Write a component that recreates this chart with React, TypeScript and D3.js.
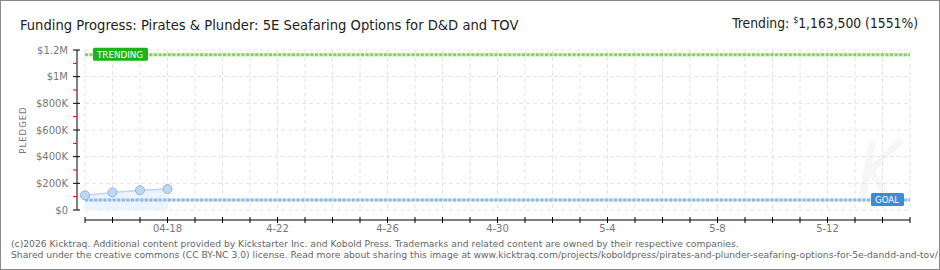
import React from 'react';
import * as d3 from 'd3';

const width = 940
  , height = 270

const titleText = 'Funding Progress: Pirates & Plunder: 5E Seafaring Options for D&D and TOV'
const footerLines = [
  '(c)2026 Kicktraq. Additional content provided by Kickstarter Inc. and Kobold Press. Trademarks and related content are owned by their respective companies.',
  'Shared under the creative commons (CC BY-NC 3.0) license. Read more about sharing this image at www.kicktraq.com/projects/koboldpress/pirates-and-plunder-seafaring-options-for-5e-dandd-and-tov/'
]

// campaign window
const startDate = '2026-04-15'
const endDate = '2026-05-15'

// pledged so far
const pledgeDates = ['2026-04-15', '2026-04-16', '2026-04-17', '2026-04-18']
const pledged = [110000, 132000, 148000, 157000]

const goal = 75000
const trending = 1163500
const trendingPct = '1551%'

const yTicks = [0, 200000, 400000, 600000, 800000, 1000000, 1200000]
const yTickLabels = ['$0', '$200K', '$400K', '$600K', '$800K', '$1M', '$1.2M']

const xLabelDates = ['2026-04-18', '2026-04-22', '2026-04-26', '2026-04-30', '2026-05-04', '2026-05-08', '2026-05-12']
const xLabels = ['04-18', '4-22', '4-26', '4-30', '5-4', '5-8', '5-12']

const parse = d3.timeParse('%Y-%m-%d')

export default class App extends React.Component {
  ref: React.RefObject<HTMLDivElement | null>

  constructor(props: any) {
    super(props);
    this.ref = React.createRef();
  }

  componentDidMount() {
    document.body.style.margin = '0';
    this.draw();
  }

  draw() {
    const root = d3.select(this.ref.current);
    root.selectAll('*').remove();

    const svg = root.append('svg')
      .attr('width', width)
      .attr('height', height)
      .style('display', 'block')
      .style('background', '#fff');

    const x = d3.scaleTime()
      .domain([parse(startDate) as Date, parse(endDate) as Date])
      .range([85, 910]);
    const y = d3.scaleLinear().domain([0, 1200000]).range([210, 50]);

    const font = "'DejaVu Sans', sans-serif";
    const narrow = "'DejaVu Sans Condensed', 'DejaVu Sans', sans-serif";

    // outer frame
    svg.append('rect')
      .attr('x', 0.5).attr('y', 0.5)
      .attr('width', width - 1).attr('height', height - 1)
      .attr('fill', 'none').attr('stroke', '#888');

    // faint "K" logo watermark (decoration only)
    svg.append('path')
      .attr('d', 'M862,200 L872,145 M868,175 C880,160 892,148 900,142 M870,172 C878,180 884,190 888,200')
      .attr('fill', 'none')
      .attr('stroke', '#f6f6f6')
      .attr('stroke-width', 7)
      .attr('stroke-linecap', 'round');

    // grid
    const days = d3.timeDay.range(parse(startDate) as Date, d3.timeDay.offset(parse(endDate) as Date, 1));
    svg.append('g').selectAll('line')
      .data(days).enter().append('line')
      .attr('x1', d => x(d)).attr('x2', d => x(d))
      .attr('y1', y(1200000)).attr('y2', y(0))
      .attr('stroke', '#e4e4e4').attr('stroke-dasharray', '4,3');
    svg.append('g').selectAll('line')
      .data(yTicks).enter().append('line')
      .attr('x1', x.range()[0]).attr('x2', x.range()[1])
      .attr('y1', d => y(d)).attr('y2', d => y(d))
      .attr('stroke', '#e4e4e4').attr('stroke-dasharray', '4,3');

    // pledged area + line
    const pts = pledgeDates.map((d, i) => ({ date: parse(d) as Date, v: pledged[i] }));
    svg.append('path')
      .datum(pts)
      .attr('fill', '#ebf3fc')
      .attr('d', d3.area<any>().x(d => x(d.date)).y0(y(0)).y1(d => y(d.v)));
    svg.append('path')
      .datum(pts)
      .attr('fill', 'none').attr('stroke', '#bcd6f2').attr('stroke-width', 1.5)
      .attr('d', d3.line<any>().x(d => x(d.date)).y(d => y(d.v)));

    // goal + trending lines
    const refLine = (v: number, base: string, dash: string) => {
      svg.append('line')
        .attr('x1', x.range()[0]).attr('x2', x.range()[1])
        .attr('y1', y(v)).attr('y2', y(v))
        .attr('stroke', base).attr('stroke-width', 3);
      svg.append('line')
        .attr('x1', x.range()[0]).attr('x2', x.range()[1])
        .attr('y1', y(v)).attr('y2', y(v))
        .attr('stroke', dash).attr('stroke-width', 3)
        .attr('stroke-dasharray', '3,1.6');
    }
    refLine(goal, '#d3e4f6', '#8fb9e6');
    refLine(trending, '#d6f0c8', '#86d064');

    svg.append('g').selectAll('circle')
      .data(pts).enter().append('circle')
      .attr('cx', d => x(d.date)).attr('cy', d => y(d.v))
      .attr('r', 4.5)
      .attr('fill', '#bed7f3').attr('stroke', '#93b4da').attr('stroke-width', 1);

    // badges
    const badge = (bx: number, by: number, bw: number, fill: string, label: string) => {
      svg.append('rect')
        .attr('x', bx).attr('y', by).attr('width', bw).attr('height', 13)
        .attr('rx', 1.5).attr('fill', fill);
      svg.append('text')
        .attr('x', bx + 4).attr('y', by + 10)
        .style('font', '8.5px ' + font)
        .attr('textLength', bw - 9)
        .attr('lengthAdjust', 'spacingAndGlyphs')
        .attr('fill', '#fff')
        .text(label);
    }
    badge(93, y(trending) - 7, 55, '#1cb21c', 'TRENDING');
    badge(871, y(goal) - 7, 33, '#3b8bd9', 'GOAL');

    // y axis
    const ya = svg.append('g');
    ya.append('line')
      .attr('x1', 77).attr('x2', 77).attr('y1', y(1200000)).attr('y2', y(0))
      .attr('stroke', '#000');
    ya.selectAll('.maj')
      .data(yTicks).enter().append('line')
      .attr('x1', 73).attr('x2', 80)
      .attr('y1', d => y(d)).attr('y2', d => y(d))
      .attr('stroke', '#000');
    ya.selectAll('.min')
      .data(yTicks.slice(0, -1)).enter().append('line')
      .attr('x1', 73).attr('x2', 77)
      .attr('y1', d => y(d + 100000)).attr('y2', d => y(d + 100000))
      .attr('stroke', '#e00000');
    ya.selectAll('text')
      .data(yTicks).enter().append('text')
      .attr('x', 68).attr('y', d => y(d) + 3.5)
      .attr('text-anchor', 'end')
      .style('font', '10px ' + font)
      .attr('fill', '#777')
      .text((d, i) => yTickLabels[i]);

    svg.append('text')
      .attr('transform', 'translate(26,130)rotate(-90)')
      .attr('text-anchor', 'middle')
      .style('font', '8.5px ' + font)
      .style('letter-spacing', '1px')
      .attr('fill', '#777')
      .text('PLEDGED');

    // x axis
    const xa = svg.append('g');
    xa.append('line')
      .attr('x1', x.range()[0]).attr('x2', x.range()[1])
      .attr('y1', 220).attr('y2', 220)
      .attr('stroke', '#000');
    xa.selectAll('.tk')
      .data(days).enter().append('line')
      .attr('x1', d => x(d)).attr('x2', d => x(d))
      .attr('y1', 217).attr('y2', 223)
      .attr('stroke', '#000');
    xa.selectAll('text')
      .data(xLabelDates).enter().append('text')
      .attr('x', d => x(parse(d) as Date)).attr('y', 232)
      .attr('text-anchor', 'middle')
      .style('font', '10px ' + font)
      .attr('fill', '#777')
      .text((d, i) => xLabels[i]);

    // title
    const title = svg.append('text')
      .attr('x', 20).attr('y', 30)
      .style('font', '16px ' + narrow)
      .attr('fill', '#222')
      .text(titleText);
    const tl = (title.node() as SVGTextElement).getComputedTextLength();
    title.style('font-size', (16 * 499 / tl) + 'px');

    // trending value, right aligned
    const tr = svg.append('text')
      .attr('x', 918).attr('y', 28)
      .attr('text-anchor', 'end')
      .style('font', '17px ' + narrow)
      .attr('fill', '#222');
    tr.append('tspan').text('Trending:  ');
    tr.append('tspan').style('font-size', '0.65em').attr('dy', -5).text('$');
    tr.append('tspan').attr('dy', 5).text(d3.format(',')(trending) + ' (' + trendingPct + ')');
    const trl = (tr.node() as SVGTextElement).getComputedTextLength();
    tr.style('font-size', (17 * 186 / trl) + 'px');

    // footer
    const foot = svg.append('g')
      .style('font', '10px ' + font)
      .attr('fill', '#666');
    const f1 = foot.append('text').attr('x', 11).attr('y', 247).text(footerLines[0]);
    foot.append('text').attr('x', 11).attr('y', 258).text(footerLines[1]);
    const fl = (f1.node() as SVGTextElement).getComputedTextLength();
    foot.style('font-size', (10 * 729 / fl) + 'px');
  }

  render() {
    return (
      <div ref={this.ref}></div>
    );
  }
}
